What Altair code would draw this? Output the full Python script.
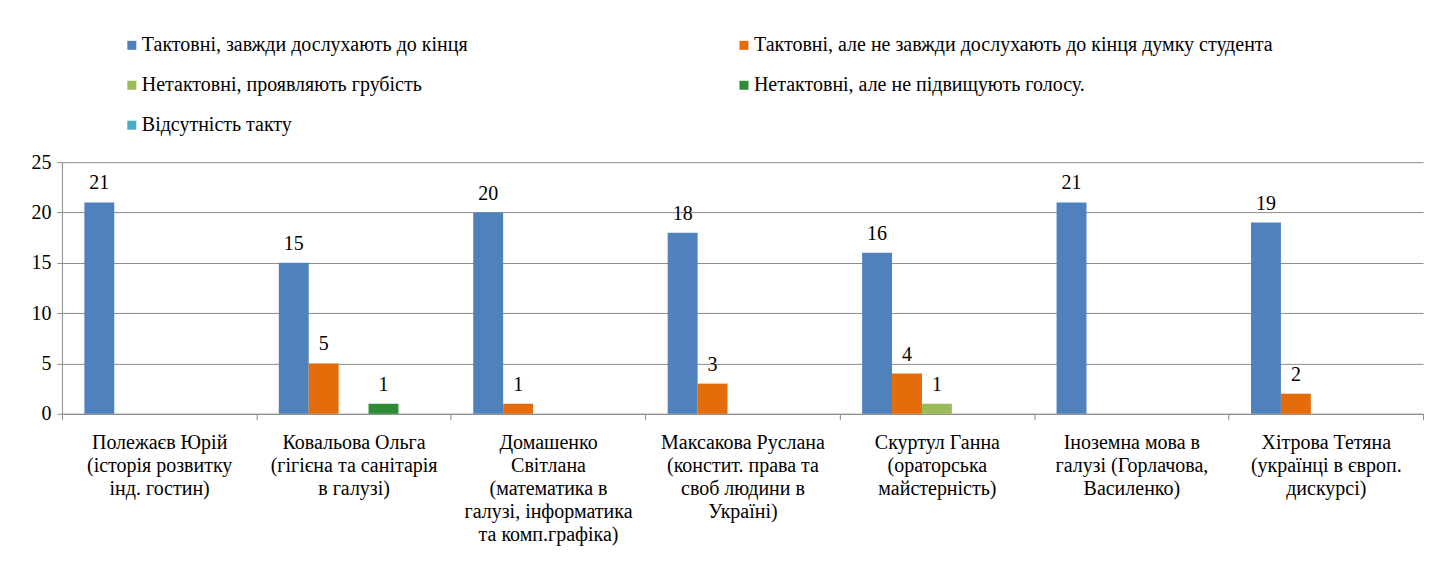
import altair as alt
import pandas as pd

categories = [
    "Полежаєв Юрій|(історія розвитку|інд. гостин)",
    "Ковальова Ольга|(гігієна та санітарія|в галузі)",
    "Домашенко|Світлана|(математика в|галузі, інформатика|та комп.графіка)",
    "Максакова Руслана|(констит. права та|своб людини в|Україні)",
    "Скуртул Ганна|(ораторська|майстерність)",
    "Іноземна мова в|галузі (Горлачова,|Василенко)",
    "Хітрова Тетяна|(українці в європ.|дискурсі)",
]
series = [
    "Тактовні, завжди дослухають до кінця",
    "Тактовні, але не завжди дослухають до кінця думку студента",
    "Нетактовні, проявляють грубість",
    "Нетактовні, але не підвищують голосу.",
    "Відсутність такту",
]
s1 = [21, 15, 20, 18, 16, 21, 19]
s2 = [0, 5, 1, 3, 4, 0, 2]
s3 = [0, 0, 0, 0, 1, 0, 0]
s4 = [0, 1, 0, 0, 0, 0, 0]
s5 = [0, 0, 0, 0, 0, 0, 0]
colors = ["#4F81BD", "#E46C0A", "#9BBB59", "#2F8B36", "#4BACC6"]

rows = []
for name, vals in zip(series, [s1, s2, s3, s4, s5]):
    for c, v in zip(categories, vals):
        rows.append({"cat": c, "series": name, "value": v})
df = pd.DataFrame(rows)

FONT = "Liberation Serif, Times New Roman, DejaVu Serif, serif"
GRID = "#8C8C8C"

x = alt.X(
    "cat:N",
    sort=categories,
    scale=alt.Scale(paddingInner=0, paddingOuter=0),
    axis=alt.Axis(
        title=None,
        labelAngle=0,
        labelExpr="split(datum.label, '|')",
        tickBand="extent",
        tickSize=6,
        labelPadding=13,
        labelFont=FONT,
        labelFontSize=20,
        labelLineHeight=23,
        labelColor="black",
        labelLimit=400,
        domainColor=GRID,
        tickColor=GRID,
        grid=False,
    ),
)
xo = alt.XOffset(
    "series:N",
    sort=series,
    scale=alt.Scale(domain=series, paddingOuter=0.75, paddingInner=0),
)
y = alt.Y(
    "value:Q",
    scale=alt.Scale(domain=[0, 25]),
    axis=alt.Axis(
        title=None,
        values=[0, 5, 10, 15, 20, 25],
        gridColor=GRID,
        domainColor=GRID,
        tickColor=GRID,
        tickSize=5,
        labelPadding=6,
        labelFont=FONT,
        labelFontSize=20,
        labelColor="black",
    ),
)

color = alt.Color(
    "series:N",
    scale=alt.Scale(domain=series, range=colors),
    legend=alt.Legend(
        title=None,
        orient="none",
        direction="horizontal",
        legendX=60,
        legendY=-127,
        columns=2,
        columnPadding=266,
        rowPadding=20,
        symbolType="square",
        symbolSize=81,
        symbolStrokeWidth=0,
        labelFont=FONT,
        labelFontSize=20,
        labelColor="black",
        labelLimit=800,
        labelOffset=0,
    ),
)

bars = alt.Chart(df).mark_bar().encode(x=x, xOffset=xo, y=y, color=color)
labels = (
    alt.Chart(df)
    .transform_filter("datum.value > 0")
    .mark_text(baseline="bottom", dy=-9, font=FONT, fontSize=20, color="black")
    .encode(x=x, xOffset=xo, y=y, text="value:Q")
)

chart = (
    alt.layer(bars, labels)
    .properties(
        width=1363,
        height=252,
        padding={"left": 23, "top": 27, "right": 5, "bottom": 5},
        background="white",
    )
    .configure_view(strokeWidth=0)
)

chart.save("out.html", embed_options={"renderer": "svg", "actions": False})
